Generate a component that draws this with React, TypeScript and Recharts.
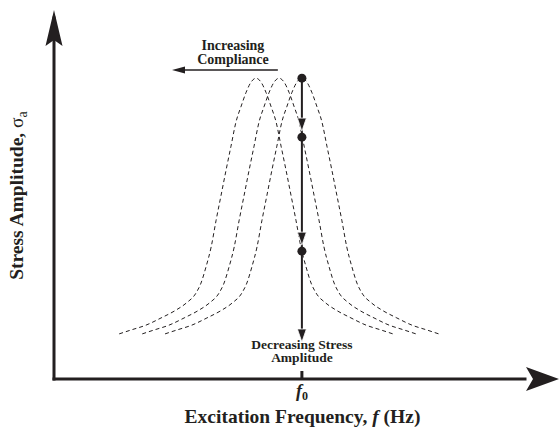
import React from 'react';
import { LineChart, Line, XAxis, YAxis, ReferenceLine, ReferenceDot, Label } from 'recharts';

// Excitation frequency (relative to f0) and stress amplitude (relative to peak)
const curveLowFreq = [0.263, 0.311, 0.371, 0.432, 0.492, 0.533, 0.573, 0.593, 0.613, 0.634, 0.654, 0.674, 0.694, 0.714, 0.734, 0.755, 0.775, 0.795, 0.815, 0.835, 0.855, 0.875, 0.896, 0.916, 0.936, 0.956, 0.976, 0.996, 1.017, 1.037, 1.057, 1.097, 1.138, 1.198, 1.259, 1.319, 1.367];
const curveLowAmp = [0.150, 0.163, 0.179, 0.203, 0.229, 0.252, 0.286, 0.319, 0.372, 0.439, 0.528, 0.611, 0.694, 0.774, 0.854, 0.907, 0.953, 0.987, 1.0, 0.987, 0.953, 0.907, 0.854, 0.774, 0.694, 0.611, 0.528, 0.439, 0.372, 0.319, 0.286, 0.252, 0.229, 0.203, 0.179, 0.163, 0.150];

const curveMidFreq = [0.356, 0.404, 0.464, 0.525, 0.585, 0.626, 0.666, 0.686, 0.706, 0.727, 0.747, 0.767, 0.787, 0.807, 0.827, 0.848, 0.868, 0.888, 0.908, 0.928, 0.948, 0.968, 0.989, 1.009, 1.029, 1.049, 1.069, 1.089, 1.110, 1.130, 1.150, 1.190, 1.231, 1.291, 1.352, 1.412, 1.460];
const curveMidAmp = [0.150, 0.163, 0.179, 0.203, 0.229, 0.252, 0.286, 0.319, 0.372, 0.439, 0.528, 0.611, 0.694, 0.774, 0.854, 0.907, 0.953, 0.987, 1.0, 0.987, 0.953, 0.907, 0.854, 0.774, 0.694, 0.611, 0.528, 0.439, 0.372, 0.319, 0.286, 0.252, 0.229, 0.203, 0.179, 0.163, 0.150];

const curveHighFreq = [0.448, 0.496, 0.556, 0.617, 0.677, 0.718, 0.758, 0.778, 0.798, 0.819, 0.839, 0.859, 0.879, 0.899, 0.919, 0.940, 0.960, 0.980, 1.000, 1.020, 1.040, 1.060, 1.081, 1.101, 1.121, 1.141, 1.161, 1.181, 1.202, 1.222, 1.242, 1.282, 1.323, 1.383, 1.444, 1.504, 1.552];
const curveHighAmp = [0.150, 0.163, 0.179, 0.203, 0.229, 0.252, 0.286, 0.319, 0.372, 0.439, 0.528, 0.611, 0.694, 0.774, 0.854, 0.907, 0.953, 0.987, 1.0, 0.987, 0.953, 0.907, 0.854, 0.774, 0.694, 0.611, 0.528, 0.439, 0.372, 0.319, 0.286, 0.252, 0.229, 0.203, 0.179, 0.163, 0.150];

const F0 = 1.0;
const xTicks = [F0];
const X_MAX = 1.9;
const Y_MAX = 1.2;

// Operating points at f0 (dots) and the arrow tips that lead to them
const operatingAmps = [1.0, 0.804, 0.425];
const downArrowTipAmps = [0.824, 0.445, 0.123];

// "Increasing Compliance" arrow
const complianceArrowFrom = 0.903;
const complianceArrowTo = 0.476;
const complianceArrowAmp = 1.027;
const complianceTextF = 0.722;
const complianceTextAmps = [1.093, 1.047];
const complianceLines = ['Increasing', 'Compliance'];

const decreasingTextAmps = [0.1, 0.055];
const decreasingLines = ['Decreasing Stress', 'Amplitude'];

const rows = (fs: number[], as: number[]) => fs.map((f, i) => ({ f, a: as[i] }));
const dataLow = rows(curveLowFreq, curveLowAmp);
const dataMid = rows(curveMidFreq, curveMidAmp);
const dataHigh = rows(curveHighFreq, curveHighAmp);

const INK = '#231f20';
const SERIF = "'Liberation Serif', 'Times New Roman', Times, serif";

const F0Tick = (props: any) => {
  const { x, y } = props;
  return (
    <g>
      <line x1={x} x2={x} y1={y - 8} y2={y - 16} stroke={INK} strokeWidth={3} />
      <text x={x} y={y + 10} textAnchor="middle" fontFamily={SERIF} fontWeight="bold" fill={INK}>
        <tspan fontStyle="italic" fontSize={18}>f</tspan>
        <tspan fontSize={12} dy={3}>0</tspan>
      </text>
    </g>
  );
};

const XTitle = (p: any) => {
  const vb = p.viewBox;
  return (
    <text x={vb.x + vb.width / 2 + 13} y={vb.y + 44} textAnchor="middle" fontFamily={SERIF} fontWeight="bold" fontSize={19.5} fill={INK}>
      Excitation Frequency, <tspan fontStyle="italic">f</tspan> (Hz)
    </text>
  );
};

const YTitle = (p: any) => {
  const vb = p.viewBox;
  const cx = 23;
  const cy = vb.y + vb.height / 2 - 3;
  return (
    <text x={cx} y={cy} transform={`rotate(-90, ${cx}, ${cy})`} textAnchor="middle" fontFamily={SERIF} fontWeight="bold" fontSize={19.5} fill={INK}>
      Stress Amplitude, <tspan fontWeight="normal">σ</tspan>
      <tspan fontWeight="normal" fontSize={14} dy={4}>a</tspan>
    </text>
  );
};

const YArrowHead = (p: any) => {
  const { cx, cy } = p;
  return <polygon points={`${cx},${cy - 8} ${cx + 8.5},${cy + 28} ${cx},${cy + 22} ${cx - 8.5},${cy + 28}`} fill={INK} />;
};

const XArrowHead = (p: any) => {
  const { cx, cy } = p;
  return <polygon points={`${cx + 34},${cy} ${cx + 1},${cy - 12} ${cx + 8},${cy} ${cx + 1},${cy + 12}`} fill={INK} />;
};

const DownHead = (p: any) => {
  const { cx, cy } = p;
  return <polygon points={`${cx},${cy} ${cx - 4.5},${cy - 13} ${cx + 4.5},${cy - 13}`} fill={INK} stroke="#fff" strokeWidth={0.8} />;
};

const LeftHead = (p: any) => {
  const { cx, cy } = p;
  return <polygon points={`${cx},${cy} ${cx + 13},${cy - 3.5} ${cx + 13},${cy + 3.5}`} fill={INK} />;
};

const Dot = (p: any) => {
  const { cx, cy } = p;
  return <circle cx={cx} cy={cy} r={4.5} fill={INK} />;
};

const BoldText = (text: string, size: number) => (p: any) => {
  const { cx, cy } = p;
  return (
    <text x={cx} y={cy} textAnchor="middle" fontFamily={SERIF} fontWeight="bold" fontSize={size} fill={INK}>
      {text}
    </text>
  );
};

export default function App() {
  return (
    <div style={{ position: 'absolute', left: 0, top: 0, background: '#fff' }}>
      <LineChart width={559} height={432} margin={{ top: 18, right: 34, bottom: 23, left: 53 }}>
        <XAxis
          dataKey="f"
          type="number"
          domain={[0, X_MAX]}
          ticks={xTicks}
          allowDataOverflow
          height={30}
          axisLine={{ stroke: INK, strokeWidth: 3, strokeLinecap: 'square' }}
          tickLine={false}
          tick={<F0Tick />}
        >
          <Label content={XTitle} />
        </XAxis>
        <YAxis
          type="number"
          domain={[0, Y_MAX]}
          allowDataOverflow
          width={1}
          tick={false}
          tickLine={false}
          axisLine={{ stroke: INK, strokeWidth: 3, strokeLinecap: 'square' }}
        >
          <Label content={YTitle} />
        </YAxis>

        <Line data={dataLow} dataKey="a" type="monotone" stroke={INK} strokeWidth={1} strokeDasharray="4 3" dot={false} activeDot={false} isAnimationActive={false} />
        <Line data={dataMid} dataKey="a" type="monotone" stroke={INK} strokeWidth={1} strokeDasharray="4 3" dot={false} activeDot={false} isAnimationActive={false} />
        <Line data={dataHigh} dataKey="a" type="monotone" stroke={INK} strokeWidth={1} strokeDasharray="4 3" dot={false} activeDot={false} isAnimationActive={false} />

        <ReferenceDot x={0} y={Y_MAX} r={0} ifOverflow="visible" shape={YArrowHead} />
        <ReferenceDot x={X_MAX} y={0} r={0} ifOverflow="visible" shape={XArrowHead} />

        <ReferenceLine
          segment={[{ x: complianceArrowFrom, y: complianceArrowAmp }, { x: complianceArrowTo + 0.03, y: complianceArrowAmp }]}
          stroke={INK}
          strokeWidth={1.5}
          ifOverflow="visible"
        />
        <ReferenceDot x={complianceArrowTo} y={complianceArrowAmp} r={0} ifOverflow="visible" shape={LeftHead} />
        {complianceLines.map((t, i) => (
          <ReferenceDot key={`c${i}`} x={complianceTextF} y={complianceTextAmps[i]} r={0} ifOverflow="visible" shape={BoldText(t, 14)} />
        ))}

        <ReferenceLine
          segment={[{ x: F0, y: operatingAmps[0] }, { x: F0, y: downArrowTipAmps[2] + 0.02 }]}
          stroke={INK}
          strokeWidth={2}
          ifOverflow="visible"
        />
        {operatingAmps.map((a, i) => (
          <ReferenceDot key={`d${i}`} x={F0} y={a} r={0} ifOverflow="visible" shape={Dot} />
        ))}
        {downArrowTipAmps.map((a, i) => (
          <ReferenceDot key={`h${i}`} x={F0} y={a} r={0} ifOverflow="visible" shape={DownHead} />
        ))}
        {decreasingLines.map((t, i) => (
          <ReferenceDot key={`t${i}`} x={F0} y={decreasingTextAmps[i]} r={0} ifOverflow="visible" shape={BoldText(t, 13.5)} />
        ))}
      </LineChart>
    </div>
  );
}
